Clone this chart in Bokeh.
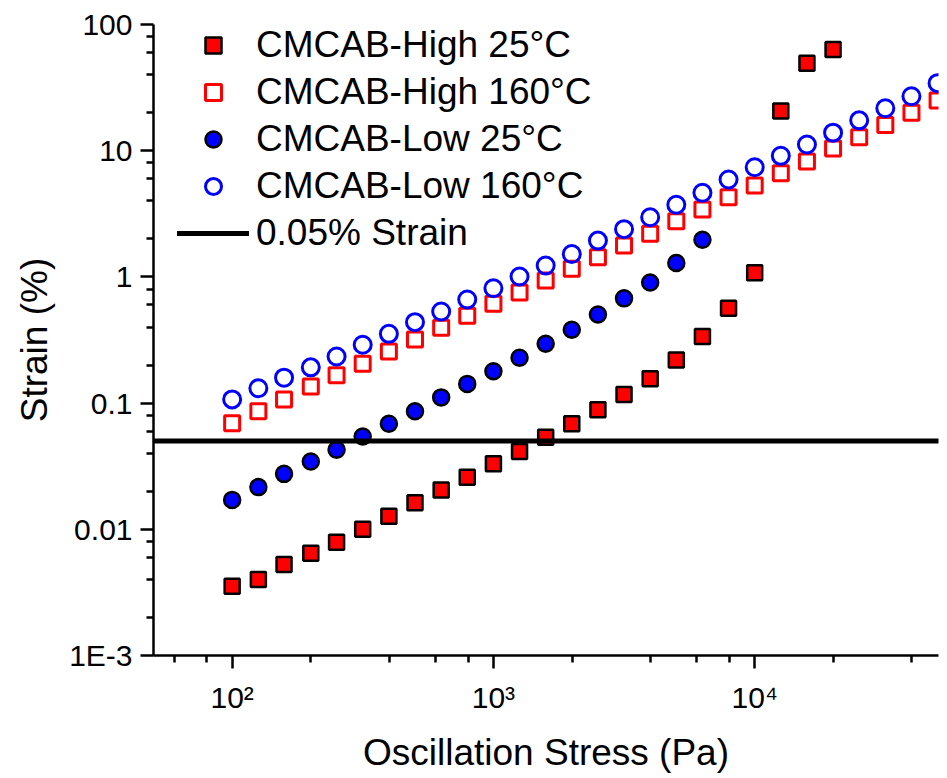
from bokeh.plotting import figure
from bokeh.models import Range1d, FixedTicker, Legend, LegendItem, Title
from bokeh.embed import file_html
from bokeh.resources import INLINE

# ---- data ----
stress = [100, 126, 158, 200, 251, 316, 398, 501, 631, 794,
          1000, 1259, 1585, 1995, 2512, 3162, 3981, 5012, 6310, 7943,
          10000, 12589, 15849, 19953, 25119, 31623, 39811, 50119]

high_25 = [0.00354, 0.0040, 0.00526, 0.00647, 0.0079, 0.0100, 0.0127, 0.0162,
           0.0205, 0.0259, 0.0330, 0.0413, 0.0537, 0.0686, 0.0885, 0.117,
           0.156, 0.220, 0.337, 0.565, 1.08, 20.6, 49.4, 63.4]
high_160 = [0.0693, 0.0863, 0.107, 0.1355, 0.166, 0.205, 0.256, 0.319, 0.395,
            0.492, 0.612, 0.752, 0.936, 1.16, 1.43, 1.77, 2.20, 2.76, 3.42,
            4.28, 5.30, 6.63, 8.21, 10.4, 12.8, 16.0, 20.0, 25.0]
low_25 = [0.0171, 0.0216, 0.0275, 0.0345, 0.0427, 0.0543, 0.0686, 0.0863,
          0.111, 0.142, 0.179, 0.229, 0.295, 0.381, 0.504, 0.676, 0.903,
          1.29, 1.97]
low_160 = [0.107, 0.131, 0.159, 0.192, 0.234, 0.290, 0.354, 0.438, 0.532,
           0.662, 0.813, 1.007, 1.23, 1.52, 1.94, 2.39, 2.97, 3.73, 4.64,
           5.91, 7.40, 9.11, 11.2, 13.9, 17.4, 21.7, 27.0, 34.3]

strain_limit = 0.05

series_labels = ["CMCAB-High 25°C", "CMCAB-High 160°C",
                 "CMCAB-Low 25°C", "CMCAB-Low 160°C", "0.05% Strain"]
x_title = "Oscillation Stress (Pa)"
y_title = "Strain (%)"

x_start, x_end = 50, 50530
y_start, y_end = 0.001, 100

x_major = [100, 1000, 10000]
x_labels = {100: "10²", 1000: "10³", 10000: "10⁴"}
y_major = [0.001, 0.01, 0.1, 1, 10, 100]
y_labels = {0.001: "1E-3", 0.01: "0.01", 0.1: "0.1", 1: "1", 10: "10", 100: "100"}
minor_mult = [2, 4, 6, 8]

FONT = "Liberation Sans"

p = figure(width=947, height=778, x_axis_type="log", y_axis_type="log",
           x_range=Range1d(x_start, x_end), y_range=Range1d(y_start, y_end),
           output_backend="svg", toolbar_location=None,
           min_border_left=152, min_border_right=9, min_border_top=24,
           min_border_bottom=123)
p.outline_line_color = None
p.xgrid.visible = False
p.ygrid.visible = False
p.background_fill_color = "white"
p.border_fill_color = "white"

x_minor = [m * d for d in [10, 100, 1000, 10000] for m in minor_mult]
y_minor = [m * d for d in y_major[:-1] for m in minor_mult]
p.xaxis.ticker = FixedTicker(ticks=x_major, minor_ticks=x_minor)
p.yaxis.ticker = FixedTicker(ticks=y_major, minor_ticks=y_minor)
p.xaxis.major_label_overrides = x_labels
p.yaxis.major_label_overrides = y_labels

for ax in (p.xaxis[0], p.yaxis[0]):
    ax.axis_line_width = 2.5
    ax.axis_line_color = "black"
    ax.major_tick_line_width = 2.5
    ax.minor_tick_line_width = 2.5
    ax.major_tick_line_color = "black"
    ax.minor_tick_line_color = "black"
    ax.major_tick_in = 0
    ax.major_tick_out = 13
    ax.minor_tick_in = 0
    ax.minor_tick_out = 7
    ax.major_label_text_font = FONT
    ax.major_label_text_font_size = "30px"
    ax.major_label_text_color = "black"
    ax.axis_label_text_font = FONT
    ax.axis_label_text_font_size = "37px"
    ax.axis_label_text_font_style = "normal"
    ax.axis_label_text_color = "black"

p.xaxis.axis_label = x_title
p.xaxis.major_label_standoff = 12
p.xaxis.axis_label_standoff = 15
p.yaxis.major_label_standoff = 8

ytitle = Title(text=y_title, align="center", offset=-20, standoff=23,
               text_font=FONT, text_font_size="37px", text_font_style="normal",
               text_color="black")
p.add_layout(ytitle, "left")

r1 = p.scatter(stress[:len(high_25)], high_25, marker="square", size=15,
               fill_color="red", line_color="black", line_width=2.5)
r2 = p.scatter(stress[:len(high_160)], high_160, marker="square", size=15,
               fill_color="white", fill_alpha=0, line_color="red", line_width=3)
r3 = p.scatter(stress[:len(low_25)], low_25, marker="circle", size=16,
               fill_color="blue", line_color="black", line_width=2.5)
r4 = p.scatter(stress[:len(low_160)], low_160, marker="circle", size=17,
               fill_color="white", fill_alpha=0, line_color="blue", line_width=3)
r5 = p.line([x_start, x_end], [strain_limit, strain_limit], line_color="black",
            line_width=5, line_cap="round")

legend = Legend(items=[LegendItem(label=lab, renderers=[r])
                       for lab, r in zip(series_labels, [r1, r2, r3, r4, r5])],
                location=(24, 401), padding=0, margin=0, spacing=5,
                glyph_width=72, glyph_height=40, label_height=40,
                label_standoff=7, border_line_color=None,
                background_fill_alpha=0,
                label_text_font=FONT, label_text_font_size="37px",
                label_text_color="black")
p.add_layout(legend)

open("out.html", "w").write(file_html(p, INLINE))
